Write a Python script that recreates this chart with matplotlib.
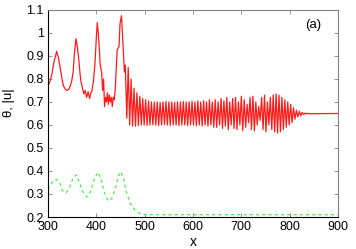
import numpy as np
import matplotlib.pyplot as plt

# red curve |u| before the oscillating tail
u_x = [300, 304, 308, 312, 318, 322, 325, 329, 332, 336, 339, 343, 346, 349, 352, 355, 358, 360, 363,
       366, 368, 371, 374, 377, 380, 383, 386, 389, 391, 394, 397, 400, 402, 404, 406, 408, 411, 413,
       415, 417, 419, 421, 423, 425, 427, 429, 431, 433, 435, 437, 439, 441, 443, 445, 447, 449, 452,
       455, 458]
u_y = [0.77, 0.79, 0.82, 0.87, 0.92, 0.89, 0.85, 0.80, 0.77, 0.755, 0.75, 0.755, 0.77, 0.79, 0.83, 0.92,
       0.975, 0.95, 0.90, 0.83, 0.79, 0.765, 0.735, 0.75, 0.72, 0.745, 0.715, 0.74, 0.75, 0.79, 0.86,
       0.98, 1.045, 1.0, 0.94, 0.86, 0.83, 0.75, 0.80, 0.68, 0.72, 0.70, 0.74, 0.69, 0.73, 0.70, 0.72,
       0.68, 0.72, 0.71, 0.75, 0.84, 0.92, 0.935, 0.94, 1.04, 1.075, 0.96, 0.83]

# oscillating tail: crest values (every 6 in x from 460) and trough values (from 463)
crest = [0.86, 0.85, 0.80, 0.76, 0.74, 0.725, 0.715, 0.71, 0.705, 0.70,
         0.70, 0.70, 0.698, 0.70, 0.702, 0.70, 0.70, 0.698, 0.70, 0.70, 0.702,
         0.70, 0.70, 0.703, 0.70, 0.705, 0.70, 0.705, 0.70, 0.71, 0.70,
         0.71, 0.70, 0.715, 0.705, 0.72, 0.70, 0.715, 0.72, 0.70, 0.725, 0.71, 0.69,
         0.72, 0.725, 0.70, 0.68, 0.72, 0.73, 0.70, 0.72, 0.73, 0.735, 0.73, 0.72, 0.71,
         0.70, 0.69, 0.675, 0.665, 0.66, 0.655, 0.652, 0.651]
trough = [0.63, 0.60, 0.595, 0.595, 0.598, 0.60, 0.60, 0.598, 0.60, 0.60,
          0.60, 0.598, 0.60, 0.602, 0.60, 0.598, 0.60, 0.60, 0.598, 0.60, 0.60,
          0.598, 0.60, 0.60, 0.597, 0.60, 0.596, 0.60, 0.595, 0.60, 0.59,
          0.59, 0.60, 0.585, 0.595, 0.58, 0.60, 0.585, 0.58, 0.60, 0.575, 0.59, 0.61,
          0.58, 0.575, 0.60, 0.62, 0.58, 0.57, 0.60, 0.58, 0.57, 0.565, 0.57, 0.58, 0.59,
          0.60, 0.61, 0.625, 0.635, 0.64, 0.645, 0.648, 0.649]
u_end = 0.65

# green curve theta
th_x = [300, 305, 312, 318, 324, 330, 338, 345, 352, 359, 365, 372, 380, 388, 395, 403, 409, 416,
        424, 432, 440, 446, 451, 456, 462, 470, 480, 490, 500, 900]
th_y = [0.32, 0.34, 0.36, 0.364, 0.35, 0.315, 0.305, 0.33, 0.37, 0.383, 0.35, 0.31, 0.287, 0.31,
        0.36, 0.395, 0.37, 0.31, 0.271, 0.28, 0.33, 0.38, 0.397, 0.37, 0.31, 0.26, 0.23, 0.215, 0.21, 0.21]

# build the zigzag tail from crest/trough values
n = len(crest)
cx = 460 + 6 * np.arange(n)
tx = cx + 3
zx = np.empty(2 * n)
zy = np.empty(2 * n)
zx[0::2], zx[1::2] = cx, tx
zy[0::2], zy[1::2] = crest, trough
red_x = np.concatenate([u_x, zx, [900]])
red_y = np.concatenate([u_y, zy, [u_end]])

plt.rcParams['font.family'] = ['Liberation Sans', 'DejaVu Sans']
fig = plt.figure(figsize=(3.56, 2.49), dpi=100)
ax = fig.add_axes([0.1348, 0.1285, 0.8146, 0.8315])

ax.plot(red_x, red_y, color='#ff1a1a', lw=0.9)
ax.plot(th_x, th_y, color='#44ee44', lw=0.9, dashes=(2.5, 2.5))

ax.set_xlim(300, 900)
ax.set_ylim(0.2, 1.1)
ax.set_xticks([300, 400, 500, 600, 700, 800, 900])
ax.set_yticks([0.2, 0.3, 0.4, 0.5, 0.6, 0.7, 0.8, 0.9, 1.0, 1.1])
ax.set_yticklabels(['0.2', '0.3', '0.4', '0.5', '0.6', '0.7', '0.8', '0.9', '1', '1.1'])
ax.tick_params(direction='in', top=True, right=True, length=3, width=0.6, labelsize=9,
               color='#808080', pad=3)
for s in ['top', 'right']:
    ax.spines[s].set_color('#808080')
for s in ['left', 'bottom']:
    ax.spines[s].set_color('black')
for s in ax.spines.values():
    s.set_linewidth(0.8)

ax.set_xlabel('x', fontsize=10)
ax.xaxis.set_label_coords(0.5, -0.085)
ax.set_ylabel('θ, |u|', fontsize=9.5)
ax.yaxis.set_label_coords(-0.114, 0.55)
ax.text(0.914, 0.928, '(a)', transform=ax.transAxes, fontsize=9.5, ha='center', va='center')

fig.savefig('out.png', dpi=100)
